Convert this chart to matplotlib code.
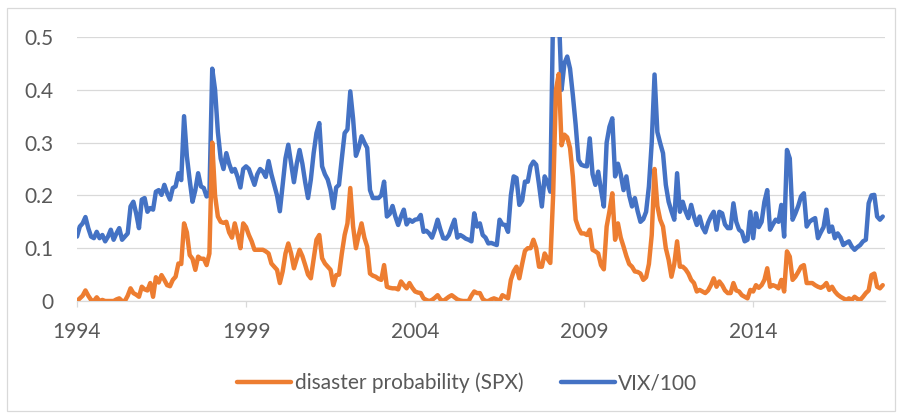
import matplotlib
matplotlib.use("Agg")
import matplotlib.pyplot as plt
from matplotlib.patches import Rectangle

plt.rcParams['font.family'] = ['Lato', 'DejaVu Sans']

# monthly values, one row per year starting 1994
vix = [
    0.122, 0.141, 0.147, 0.159, 0.138, 0.122, 0.119, 0.131, 0.119, 0.125, 0.113, 0.122,
    0.135, 0.116, 0.128, 0.138, 0.116, 0.122, 0.128, 0.179, 0.188, 0.166, 0.138, 0.192,
    0.195, 0.169, 0.176, 0.173, 0.207, 0.210, 0.201, 0.220, 0.204, 0.192, 0.214, 0.217,
    0.242, 0.229, 0.350, 0.274, 0.229, 0.188, 0.210, 0.242, 0.217, 0.214, 0.198, 0.201,
    0.440, 0.400, 0.320, 0.270, 0.250, 0.280, 0.260, 0.245, 0.250, 0.235, 0.215, 0.250,
    0.255, 0.250, 0.235, 0.220, 0.240, 0.250, 0.245, 0.235, 0.265, 0.240, 0.220, 0.200,
    0.170, 0.220, 0.270, 0.296, 0.260, 0.225, 0.260, 0.286, 0.260, 0.225, 0.195, 0.230,
    0.280, 0.318, 0.337, 0.255, 0.240, 0.230, 0.210, 0.176, 0.215, 0.220, 0.270, 0.318,
    0.325, 0.397, 0.345, 0.275, 0.290, 0.312, 0.300, 0.290, 0.210, 0.195, 0.195, 0.195,
    0.200, 0.226, 0.160, 0.165, 0.180, 0.160, 0.144, 0.160, 0.173, 0.145, 0.154, 0.150,
    0.154, 0.155, 0.163, 0.131, 0.133, 0.128, 0.120, 0.135, 0.154, 0.135, 0.119, 0.118,
    0.125, 0.140, 0.154, 0.120, 0.125, 0.122, 0.118, 0.116, 0.113, 0.166, 0.141, 0.147,
    0.125, 0.120, 0.109, 0.110, 0.108, 0.106, 0.154, 0.145, 0.144, 0.131, 0.200, 0.236,
    0.233, 0.182, 0.190, 0.226, 0.226, 0.255, 0.264, 0.258, 0.220, 0.179, 0.236, 0.225,
    0.207, 0.550, 0.600, 0.550, 0.400, 0.450, 0.463, 0.440, 0.390, 0.334, 0.267, 0.258,
    0.256, 0.255, 0.308, 0.240, 0.220, 0.245, 0.210, 0.179, 0.300, 0.330, 0.346, 0.236,
    0.260, 0.240, 0.210, 0.236, 0.200, 0.179, 0.195, 0.170, 0.150, 0.155, 0.169, 0.217,
    0.300, 0.429, 0.320, 0.299, 0.280, 0.220, 0.188, 0.170, 0.154, 0.242, 0.169, 0.188,
    0.170, 0.157, 0.182, 0.160, 0.144, 0.160, 0.140, 0.130, 0.148, 0.160, 0.169, 0.135,
    0.169, 0.166, 0.145, 0.138, 0.138, 0.185, 0.150, 0.135, 0.131, 0.113, 0.116, 0.169,
    0.119, 0.166, 0.140, 0.150, 0.188, 0.210, 0.135, 0.145, 0.154, 0.150, 0.182, 0.122,
    0.286, 0.270, 0.154, 0.166, 0.180, 0.198, 0.204, 0.141, 0.150, 0.154, 0.157, 0.119,
    0.130, 0.140, 0.173, 0.131, 0.141, 0.119, 0.128, 0.120, 0.106, 0.110, 0.113, 0.103,
    0.097, 0.102, 0.106, 0.113, 0.116, 0.185, 0.200, 0.201, 0.160, 0.154, 0.160,
]

disaster = [
    0.000, 0.005, 0.010, 0.020, 0.010, 0.002, 0.000, 0.007, 0.000, 0.002, 0.000, 0.000,
    0.000, 0.000, 0.003, 0.005, 0.000, 0.000, 0.010, 0.024, 0.015, 0.012, 0.008, 0.027,
    0.022, 0.020, 0.034, 0.008, 0.045, 0.035, 0.049, 0.040, 0.030, 0.028, 0.040, 0.046,
    0.071, 0.070, 0.147, 0.130, 0.087, 0.080, 0.059, 0.084, 0.080, 0.080, 0.068, 0.090,
    0.300, 0.200, 0.160, 0.150, 0.148, 0.150, 0.130, 0.120, 0.147, 0.125, 0.100, 0.147,
    0.140, 0.125, 0.113, 0.097, 0.097, 0.097, 0.097, 0.094, 0.090, 0.071, 0.065, 0.059,
    0.034, 0.056, 0.090, 0.109, 0.090, 0.062, 0.080, 0.097, 0.085, 0.068, 0.050, 0.043,
    0.080, 0.116, 0.125, 0.081, 0.071, 0.065, 0.059, 0.030, 0.049, 0.050, 0.090, 0.125,
    0.147, 0.214, 0.141, 0.100, 0.125, 0.147, 0.120, 0.103, 0.052, 0.048, 0.046, 0.042,
    0.040, 0.068, 0.027, 0.025, 0.024, 0.024, 0.022, 0.037, 0.030, 0.024, 0.034, 0.025,
    0.018, 0.016, 0.015, 0.005, 0.002, 0.000, 0.002, 0.006, 0.011, 0.003, 0.000, 0.004,
    0.008, 0.011, 0.007, 0.003, 0.001, 0.000, 0.000, 0.000, 0.010, 0.018, 0.015, 0.015,
    0.004, 0.000, 0.000, 0.003, 0.005, 0.003, 0.000, 0.011, 0.008, 0.005, 0.040, 0.056,
    0.065, 0.043, 0.070, 0.095, 0.100, 0.100, 0.116, 0.100, 0.065, 0.065, 0.090, 0.080,
    0.072, 0.200, 0.400, 0.430, 0.295, 0.315, 0.310, 0.290, 0.236, 0.154, 0.138, 0.128,
    0.128, 0.125, 0.135, 0.097, 0.094, 0.090, 0.068, 0.060, 0.141, 0.170, 0.204, 0.116,
    0.147, 0.120, 0.103, 0.085, 0.070, 0.065, 0.056, 0.055, 0.052, 0.040, 0.045, 0.070,
    0.125, 0.250, 0.180, 0.154, 0.141, 0.100, 0.078, 0.046, 0.070, 0.113, 0.065, 0.065,
    0.060, 0.052, 0.040, 0.034, 0.018, 0.021, 0.018, 0.015, 0.020, 0.030, 0.043, 0.027,
    0.037, 0.030, 0.020, 0.015, 0.015, 0.034, 0.020, 0.018, 0.011, 0.008, 0.005, 0.021,
    0.018, 0.030, 0.025, 0.030, 0.040, 0.062, 0.027, 0.030, 0.028, 0.024, 0.040, 0.018,
    0.094, 0.084, 0.040, 0.046, 0.055, 0.065, 0.068, 0.034, 0.034, 0.034, 0.030, 0.027,
    0.025, 0.028, 0.034, 0.021, 0.027, 0.018, 0.012, 0.008, 0.005, 0.002, 0.005, 0.002,
    0.008, 0.004, 0.002, 0.008, 0.015, 0.020, 0.049, 0.052, 0.027, 0.024, 0.030,
]

tick_labels = ['1994', '1999', '2004', '2009', '2014']
tick_every = 60  # one label every 60 months
y_ticks = [0, 0.1, 0.2, 0.3, 0.4, 0.5]
y_labels = ['0', '0.1', '0.2', '0.3', '0.4', '0.5']

orange = '#ED7D31'
blue = '#4472C4'
grey_text = '#595959'
grid_grey = '#D9D9D9'

fig = plt.figure(figsize=(9.02, 4.17), dpi=100)
ax = fig.add_axes([77 / 902, 1 - 301 / 417, 808 / 902, 264 / 417])

months = list(range(len(vix)))
ax.plot(months, vix, color=blue, lw=3.2, solid_joinstyle='round',
        solid_capstyle='round', label='VIX/100', zorder=3)
ax.plot(months, disaster, color=orange, lw=3.2, solid_joinstyle='round',
        solid_capstyle='round', label='disaster probability (SPX)', zorder=4)

ax.set_ylim(0, 0.5)
ax.set_xlim(0, 286.8)
ax.set_yticks(y_ticks)
ax.set_yticklabels(y_labels)
ax.set_xticks([k * tick_every for k in range(len(tick_labels))])
ax.set_xticklabels(tick_labels)

ax.grid(axis='y', color=grid_grey, lw=0.9, zorder=0)
ax.set_axisbelow(True)
for side in ['top', 'right', 'left']:
    ax.spines[side].set_visible(False)
ax.spines['bottom'].set_color(grid_grey)
ax.spines['bottom'].set_linewidth(0.9)

ax.tick_params(axis='y', length=0, pad=17, labelsize=15, labelcolor=grey_text)
ax.tick_params(axis='x', length=4, width=0.9, color=grid_grey, pad=11,
               labelsize=15, labelcolor=grey_text)

handles, labels = ax.get_legend_handles_labels()
fig.legend(handles[::-1], labels[::-1], loc='center', bbox_to_anchor=(0.518, 0.082),
           ncol=2, frameon=False, fontsize=15, labelcolor=grey_text,
           handlelength=2.6, handletextpad=0.15, columnspacing=1.8)

fig.patches.append(Rectangle((7 / 902, 6 / 417), 888 / 902, 403 / 417,
                             transform=fig.transFigure, fill=False,
                             edgecolor=grid_grey, lw=0.9))

fig.savefig('out.png', dpi=100)
